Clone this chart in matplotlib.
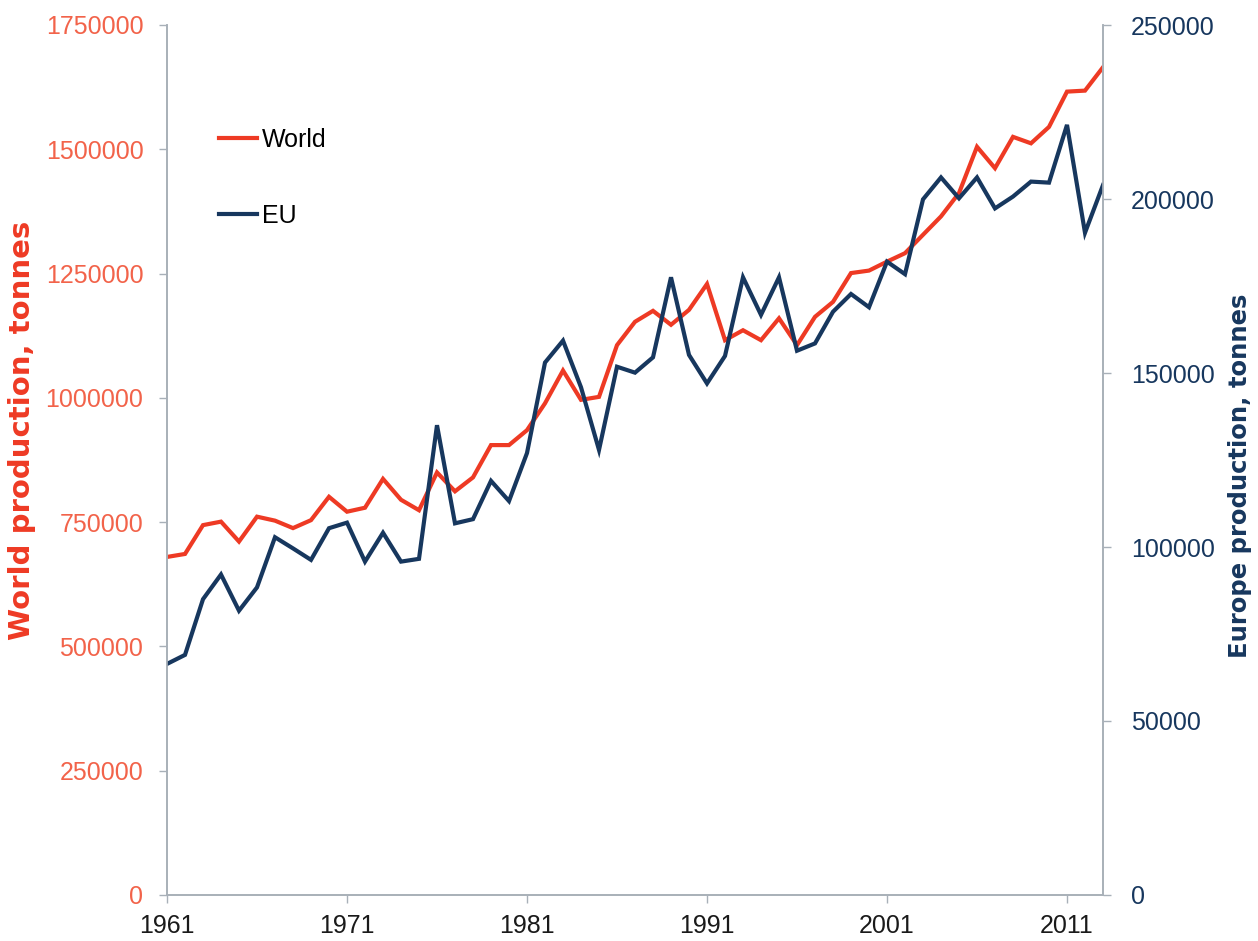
import matplotlib
matplotlib.use("Agg")
import matplotlib.pyplot as plt

years = list(range(1961, 2014))
world = [680000, 686000, 744000, 751000, 711000, 761000, 753000, 738000, 754000, 801000,
         771000, 779000, 837000, 795000, 774000, 850000, 812000, 840000, 905000, 905000,
         935000, 989000, 1055000, 996000, 1002000, 1106000, 1153000, 1175000, 1147000, 1177000,
         1229000, 1116000, 1136000, 1116000, 1160000, 1106000, 1163000, 1193000, 1251000, 1256000,
         1274000, 1291000, 1328000, 1365000, 1412000, 1505000, 1462000, 1525000, 1512000, 1545000,
         1616000, 1618000, 1665000]
eu = [66400, 69000, 85000, 92100, 81700, 88400, 102800, 99600, 96300, 105400,
      107000, 95800, 104100, 95800, 96600, 135000, 106800, 108000, 119000, 113200,
      127000, 153000, 159300, 145900, 127900, 151800, 150100, 154500, 177500, 155200,
      147000, 154900, 177500, 166700, 177500, 156400, 158500, 167600, 172700, 168900,
      182000, 178400, 199900, 206200, 200200, 206200, 197300, 200700, 205000, 204700,
      221300, 190300, 204000]
xticks = [1961, 1971, 1981, 1991, 2001, 2011]
left_ticks = [0, 250000, 500000, 750000, 1000000, 1250000, 1500000, 1750000]
right_ticks = [0, 50000, 100000, 150000, 200000, 250000]

RED = '#EE3A24'
REDTXT = '#F2634A'
NAVY = '#17375E'
GRAY = '#A8B0B8'

plt.rcParams['font.family'] = ['Liberation Sans', 'DejaVu Sans']

W, H = 1258, 941
fig = plt.figure(figsize=(W / 100, H / 100), dpi=100)
ax = fig.add_axes([167 / W, 46 / H, (1103 - 167) / W, (895 - 25) / H])
ax2 = ax.twinx()

lw, = ax.plot(years, world, color=RED, lw=3.0, solid_joinstyle='miter', label='World')
le, = ax2.plot(years, eu, color=NAVY, lw=3.0, solid_joinstyle='miter', label='EU')

ax.set_xlim(1961, 2013)
ax.set_ylim(0, 1750000)
ax2.set_ylim(0, 250000)
ax.set_xticks(xticks)
ax.set_xticklabels([str(x) for x in xticks], fontsize=18, color='#1a1a1a')
ax.set_yticks(left_ticks)
ax.set_yticklabels([str(v) for v in left_ticks], fontsize=18, color=REDTXT)
ax2.set_yticks(right_ticks)
ax2.set_yticklabels([str(v) for v in right_ticks], fontsize=18, color=NAVY)

for a in (ax, ax2):
    a.spines['top'].set_visible(False)
    for s in ('left', 'right', 'bottom'):
        a.spines[s].set_color(GRAY)
        a.spines[s].set_linewidth(1.2)
    a.tick_params(axis='both', direction='out', length=6, width=1, color=GRAY)
ax.tick_params(axis='x', pad=8)
ax.tick_params(axis='y', pad=11)
ax2.tick_params(axis='y', pad=14)

# axis titles as figure text, sized to the reference's span
fig.canvas.draw()
renderer = fig.canvas.get_renderer()

def fitted_label(x_px, y_px, text, color, target_len):
    t = fig.text(x_px / W, 1 - y_px / H, text, rotation=90, ha='center', va='center',
                 fontsize=18, fontweight='bold', color=color, family=['DejaVu Sans'])
    ext = t.get_window_extent(renderer)
    t.set_fontsize(18 * target_len / ext.height)
    return t

fitted_label(22, 430, 'World production, tonnes', RED, 420)
fitted_label(1240, 476, 'Europe production, tonnes', NAVY, 365)

leg = ax.legend([lw, le], ['World', 'EU'], loc='upper left', bbox_to_anchor=(0.045, 0.893),
                frameon=False, fontsize=18, handlelength=1.52, handletextpad=0.2,
                labelspacing=2.07, borderaxespad=0)
for h in leg.get_lines():
    h.set_linewidth(3.0)

fig.savefig('out.png', dpi=100)
